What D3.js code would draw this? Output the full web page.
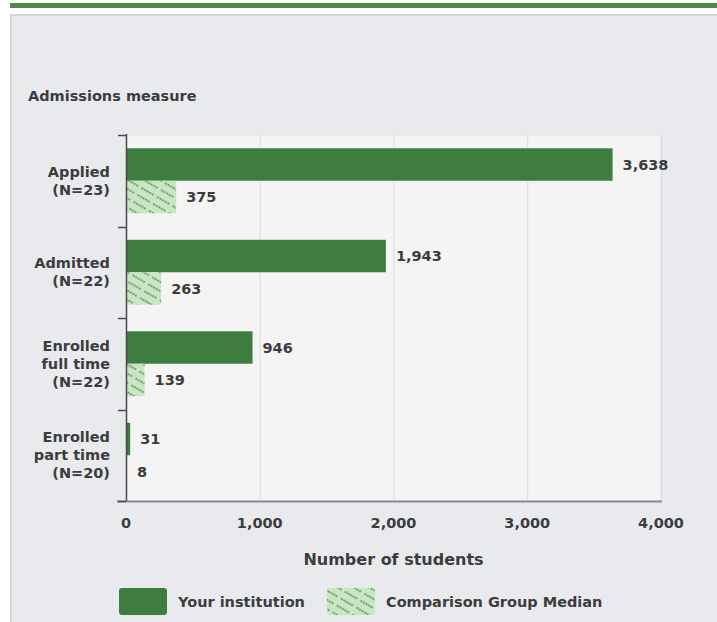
<!DOCTYPE html>
<html>
<head>
<meta charset="utf-8">
<script src="https://cdn.jsdelivr.net/npm/d3@7"></script>
<style>
  html, body { margin: 0; padding: 0; background: #ffffff; }
  svg { display: block; }
  text { font-family: "DejaVu Sans", Verdana, sans-serif; }
</style>
</head>
<body>
<div id="chart"></div>
<script>
// ---- data ----
const categories = ["Applied", "Admitted", "Enrolled full time", "Enrolled part time"];
const categoryLabels = [
  ["Applied", "(N=23)"],
  ["Admitted", "(N=22)"],
  ["Enrolled", "full time", "(N=22)"],
  ["Enrolled", "part time", "(N=20)"]
];
const seriesNames = ["Your institution", "Comparison Group Median"];
const institutionValues = [3638, 1943, 946, 31];
const medianValues = [375, 263, 139, 8];
const xTicks = [0, 1000, 2000, 3000, 4000];
const chartTitle = "Admissions measure";
const xAxisTitle = "Number of students";

// ---- layout ----
const W = 717, H = 622;
const plot = { left: 126, right: 661, top: 135, bottom: 501 };
const textColor = "#3c3c3c";
const darkGreen = "#3f7c3f";
const lightGreen = "#c8e6c4";

const svg = d3.select("#chart").append("svg")
  .attr("width", W).attr("height", H);

const defs = svg.append("defs");
const pat = defs.append("pattern")
  .attr("id", "dots")
  .attr("patternUnits", "userSpaceOnUse")
  .attr("width", 18).attr("height", 8)
  .attr("patternTransform", "rotate(30)");
pat.append("rect").attr("width", 18).attr("height", 8).attr("fill", lightGreen);
[1.5, 4.5, 7.5, 10.5, 13.5].forEach(cx => {
  pat.append("circle").attr("cx", cx).attr("cy", 4).attr("r", 1.05).attr("fill", "#4f8f4c");
});

// top band and panel
svg.append("rect").attr("x", 10).attr("y", 3).attr("width", W - 10).attr("height", 5).attr("fill", "#4f8a4b");
svg.append("rect").attr("x", 10).attr("y", 14).attr("width", W - 10).attr("height", H - 14).attr("fill", "#d5d6d8");
svg.append("rect").attr("x", 12).attr("y", 16).attr("width", W - 12).attr("height", H - 16).attr("fill", "#e9eaee");

svg.append("text")
  .attr("x", 28).attr("y", 101)
  .attr("font-size", 14.5).attr("font-weight", "bold")
  .attr("fill", textColor)
  .text(chartTitle);

// scales
const x = d3.scaleLinear().domain([0, 4000]).range([plot.left, plot.right]);
const y = d3.scaleBand().domain(categories).range([plot.top, plot.bottom]).paddingInner(0).paddingOuter(0);
const ySeries = d3.scaleBand().domain(seriesNames).range([0, y.bandwidth()]).paddingInner(0).paddingOuter(0.41);

// plot background
svg.append("rect")
  .attr("x", plot.left).attr("y", plot.top)
  .attr("width", plot.right - plot.left).attr("height", plot.bottom - plot.top)
  .attr("fill", "#f4f4f5").attr("stroke", "#e2e2e4");

// gridlines
svg.append("g").selectAll("line").data(xTicks.filter(d => d > 0)).join("line")
  .attr("x1", d => x(d) + 0.5).attr("x2", d => x(d) + 0.5)
  .attr("y1", plot.top).attr("y2", plot.bottom)
  .attr("stroke", "#dcdcde").attr("stroke-width", 1);

// bars
const rows = categories.map((c, i) => ({ cat: c, inst: institutionValues[i], med: medianValues[i], lines: categoryLabels[i] }));

const g = svg.append("g");
rows.forEach(r => {
  const y0 = y(r.cat);
  g.append("rect")
    .attr("x", x(0)).attr("y", y0 + ySeries(seriesNames[0]))
    .attr("width", x(r.inst) - x(0)).attr("height", ySeries.bandwidth())
    .attr("fill", darkGreen);
  g.append("rect")
    .attr("x", x(0)).attr("y", y0 + ySeries(seriesNames[1]))
    .attr("width", x(r.med) - x(0)).attr("height", ySeries.bandwidth())
    .attr("fill", "url(#dots)");
  g.append("text")
    .attr("x", x(r.inst) + 10).attr("y", y0 + ySeries(seriesNames[0]) + ySeries.bandwidth() / 2)
    .attr("dy", "0.35em")
    .attr("font-size", 14.5).attr("font-weight", "bold").attr("fill", textColor)
    .text(d3.format(",")(r.inst));
  g.append("text")
    .attr("x", x(r.med) + 10).attr("y", y0 + ySeries(seriesNames[1]) + ySeries.bandwidth() / 2)
    .attr("dy", "0.35em")
    .attr("font-size", 14.5).attr("font-weight", "bold").attr("fill", textColor)
    .text(d3.format(",")(r.med));

  // category labels
  const cy = y0 + y.bandwidth() / 2;
  const lh = 18;
  const n = r.lines.length;
  const t = svg.append("text")
    .attr("text-anchor", "end")
    .attr("font-size", 14.5).attr("font-weight", "bold").attr("fill", textColor);
  r.lines.forEach((ln, k) => {
    t.append("tspan")
      .attr("x", 110)
      .attr("y", cy + (k - (n - 1) / 2) * lh)
      .attr("dy", "0.35em")
      .text(ln);
  });
});

// bottom axis line
svg.append("line")
  .attr("x1", plot.left - 9).attr("x2", plot.right + 1)
  .attr("y1", plot.bottom + 0.5).attr("y2", plot.bottom + 0.5)
  .attr("stroke", "#8a8a8c").attr("stroke-width", 2);

// y axis line + ticks
const yTickPos = categories.map(c => y(c)).concat([plot.bottom]);
svg.append("line")
  .attr("x1", plot.left + 0.5).attr("x2", plot.left + 0.5)
  .attr("y1", plot.top - 1).attr("y2", plot.bottom)
  .attr("stroke", "#4a4a4a").attr("stroke-width", 1.5);
svg.append("g").selectAll("line").data(yTickPos).join("line")
  .attr("x1", plot.left - 8).attr("x2", plot.left)
  .attr("y1", d => Math.round(d) + 0.5).attr("y2", d => Math.round(d) + 0.5)
  .attr("stroke", "#4a4a4a").attr("stroke-width", 1.5);

// x tick labels
svg.append("g").selectAll("text").data(xTicks).join("text")
  .attr("x", d => x(d)).attr("y", 528)
  .attr("text-anchor", "middle")
  .attr("font-size", 14.5).attr("font-weight", "bold").attr("fill", textColor)
  .text(d => d3.format(",")(d));

svg.append("text")
  .attr("x", (plot.left + plot.right) / 2).attr("y", 565)
  .attr("text-anchor", "middle")
  .attr("font-size", 16).attr("font-weight", "bold").attr("fill", textColor)
  .text(xAxisTitle);

// legend
const legend = [
  { name: seriesNames[0], fill: darkGreen, sx: 119, tx: 178 },
  { name: seriesNames[1], fill: "url(#dots)", sx: 327, tx: 386 }
];
legend.forEach(l => {
  svg.append("rect")
    .attr("x", l.sx).attr("y", 588).attr("width", 48).attr("height", 27).attr("rx", 3)
    .attr("fill", l.fill);
  svg.append("text")
    .attr("x", l.tx).attr("y", 602).attr("dy", "0.35em")
    .attr("font-size", 14.5).attr("font-weight", "bold").attr("fill", textColor)
    .text(l.name);
});
</script>
</body>
</html>
